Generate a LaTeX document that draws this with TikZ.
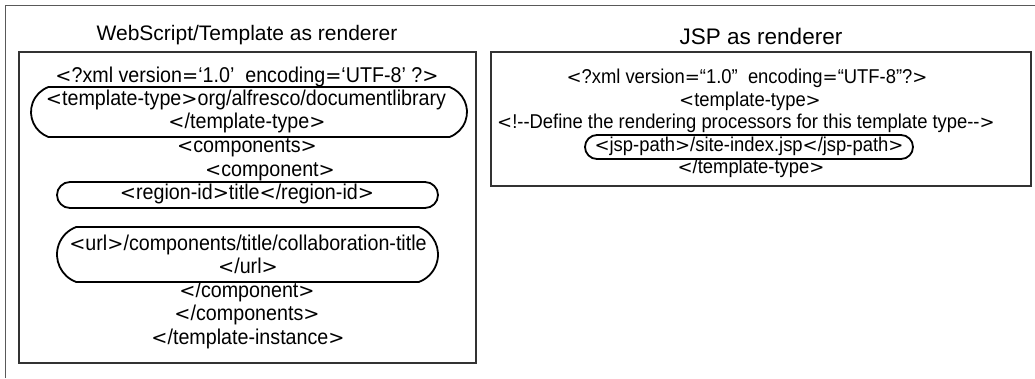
\documentclass[tikz,border=0pt]{standalone}
\usepackage{fontspec}
\setmainfont{Liberation Sans}
\newfontfamily\codefont[FakeStretch=0.92]{Liberation Sans}
\newfontfamily\symfont{DejaVu Sans}
\usetikzlibrary{shapes.misc}
% angle brackets and equals sign taken from a font with broader glyphs;
% \symsz is set by the text style in use
\def\symsz{18}
\newcommand{\LT}{{\symfont\fontsize{\symsz}{24}\selectfont <}}
\newcommand{\GT}{{\symfont\fontsize{\symsz}{24}\selectfont >}}
\newcommand{\EQ}{{\symfont\fontsize{\symsz}{24}\selectfont =}}
\begin{document}
\begin{tikzpicture}[x=1pt,y=-1pt,
  bigline/.style={anchor=base, inner sep=0pt, font=\codefont\fontsize{21.4}{24}\selectfont\def\symsz{19.3}},
  smallline/.style={anchor=base, inner sep=0pt, font=\codefont\fontsize{20}{24}\selectfont\def\symsz{18}},
  heading/.style={anchor=base, inner sep=0pt, font=\fontsize{21}{24}\selectfont},
  panel/.style={draw=black!80, line width=1.3pt},
  pill/.style={draw=black, line width=1.8pt, rounded rectangle, inner sep=0pt},
  flatpill/.style={pill, rounded rectangle arc length=140}]
\useasboundingbox (0,0) rectangle (1035,378);

% outer frame (top and left edges)
\draw[black!65, line width=1pt] (5,378) -- (5,5) -- (1035,5);

% ---------- left panel ----------
\node[heading] (ltitle) at (247,40) {WebScript/Template as renderer};
\draw[panel] (19,52) rectangle (476,363);

\node[flatpill, minimum width=436pt, minimum height=50pt] (ttpill) at (249,112) {};
\node[pill, minimum width=381pt, minimum height=26pt] (ridpill) at (247.5,195) {};
\node[flatpill, minimum width=381pt, minimum height=55pt] (urlpill) at (247.5,254.5) {};

\node[bigline] (l1) at (247,82.5) {\LT?xml version\EQ‘1.0’\ \ encoding\EQ‘UTF-8’ ?\GT};
\node[bigline] (l2) at (246,105.5) {\LT template-type\GT org/alfresco/documentlibrary};
\node[bigline] (l3) at (247,128.5) {\LT/template-type\GT};
\node[bigline] (l4) at (247,152.5) {\LT components\GT};
\node[bigline] (l5) at (270,176) {\LT component\GT};
\node[bigline] (l6) at (247,199.5) {\LT region-id\GT title\LT/region-id\GT};
\node[bigline] (l7) at (248,250) {\LT url\GT/components/title/collaboration-title};
\node[bigline] (l8) at (248,273.5) {\LT/url\GT};
\node[bigline] (l9) at (247,297) {\LT/component\GT};
\node[bigline] (l10) at (247,320.5) {\LT/components\GT};
\node[bigline] (l11) at (248,344) {\LT/template-instance\GT};

% ---------- right panel ----------
\node[heading, font=\fontsize{22.5}{24}\selectfont] (rtitle) at (761,44) {JSP as renderer};
\draw[panel] (491,52) rectangle (1031,186);

\node[pill, minimum width=328pt, minimum height=24pt] (jsppill) at (749,147) {};

\node[smallline] (r1) at (747,83) {\LT?xml version\EQ“1.0”\ \ encoding\EQ“UTF-8”?\GT};
\node[smallline] (r2) at (750,106) {\LT template-type\GT};
\node[smallline] (r3) at (746,128) {\LT!-{}-Define the rendering processors for this template type-{}-\GT};
\node[smallline] (r4) at (749,151) {\LT jsp-path\GT/site-index.jsp\LT/jsp-path\GT};
\node[smallline] (r5) at (751,173) {\LT/template-type\GT};
\end{tikzpicture}
\end{document}
